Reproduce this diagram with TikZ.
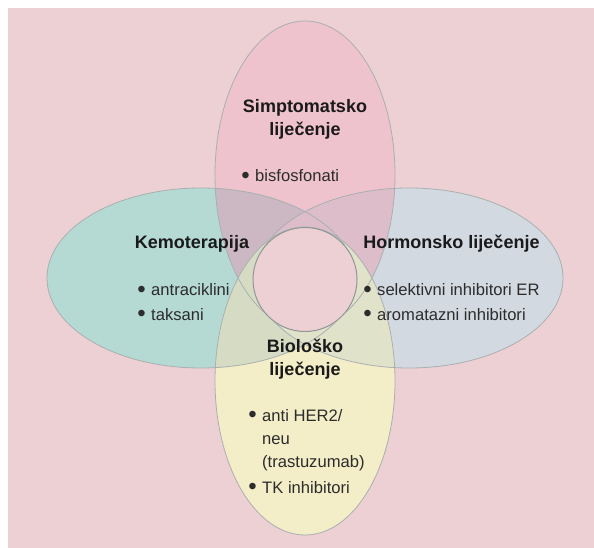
\documentclass[tikz,border=0pt]{standalone}
\usepackage{graphicx}
\usepackage{fontspec}
\setmainfont{Liberation Sans}
\definecolor{bgpink}{HTML}{EDD0D3}
\definecolor{toppink}{HTML}{EEC3CD}
\definecolor{leftteal}{HTML}{B5D9D3}
\definecolor{rightgray}{HTML}{D3D9E0}
\definecolor{botyellow}{HTML}{F3EDC8}
\definecolor{tl}{HTML}{CCB8C2}
\definecolor{tr}{HTML}{DDBDC9}
\definecolor{bl}{HTML}{D6DCC4}
\definecolor{br}{HTML}{E1E2CA}
\definecolor{edge}{HTML}{A9B0B0}
\definecolor{txt}{HTML}{1A1A1A}
\newcommand{\bul}{\llap{\raisebox{-1.9pt}{\scalebox{1.45}{\textbullet}}\hspace{5.5pt}}}
\tikzset{
  ttl/.style={anchor=base,inner sep=0pt,font=\fontsize{18}{23}\selectfont\bfseries,text=txt},
  itm/.style={anchor=base west,inner sep=0pt,font=\fontsize{16.6}{23}\selectfont,text=txt!92},
  outl/.style={draw=edge,line width=0.8pt}
}
\begin{document}
\begin{tikzpicture}[x=1pt,y=-1pt]
\useasboundingbox (0,0) rectangle (594,548);
\fill[white] (0,0) rectangle (594,548);
\fill[bgpink] (8,8) rectangle (594,548);
% shapes
\def\Top{(305,175) ellipse [x radius=90pt, y radius=154pt]}
\def\Bot{(305,381) ellipse [x radius=90pt, y radius=154pt]}
\def\Lft{(201,278) ellipse [x radius=154pt, y radius=90pt]}
\def\Rgt{(409,278) ellipse [x radius=154pt, y radius=90pt]}
\fill[toppink] \Top;
\fill[leftteal] \Lft;
\fill[rightgray] \Rgt;
\fill[botyellow] \Bot;
\begin{scope}\clip \Top; \fill[tl] \Lft; \fill[tr] \Rgt; \end{scope}
\begin{scope}\clip \Bot; \fill[bl] \Lft; \fill[br] \Rgt; \end{scope}
\draw[outl] \Top;
\draw[outl] \Lft;
\draw[outl] \Rgt;
\draw[outl] \Bot;
\fill[bgpink] (305,279.5) circle [radius=52pt];
\draw[draw=edge!85!black,line width=1pt] (305,279.5) circle [radius=52pt];
% texts
\node[ttl] (s1) at (305,112.5) {Simptomatsko};
\node[ttl] (s2) at (305,135.5) {liječenje};
\node[itm] (s3) at (255,182) {\bul bisfosfonati};
\node[ttl] (k1) at (192,248.5) {Kemoterapija};
\node[itm] (k2) at (151,295.5) {\bul antraciklini};
\node[itm] (k3) at (151,320) {\bul taksani};
\node[ttl] (h1) at (451.5,248.5) {Hormonsko liječenje};
\node[itm] (h2) at (377,295.5) {\bul selektivni inhibitori ER};
\node[itm] (h3) at (377,320) {\bul aromatazni inhibitori};
\node[ttl] (b1) at (305,352) {Biološko};
\node[ttl] (b2) at (305,375) {liječenje};
\node[itm] (b3) at (262,421) {\bul anti HER2/};
\node[itm] (b4) at (262,444) {neu};
\node[itm] (b5) at (262,467) {(trastuzumab)};
\node[itm] (b6) at (262,493) {\bul TK inhibitori};
\end{tikzpicture}
\end{document}
